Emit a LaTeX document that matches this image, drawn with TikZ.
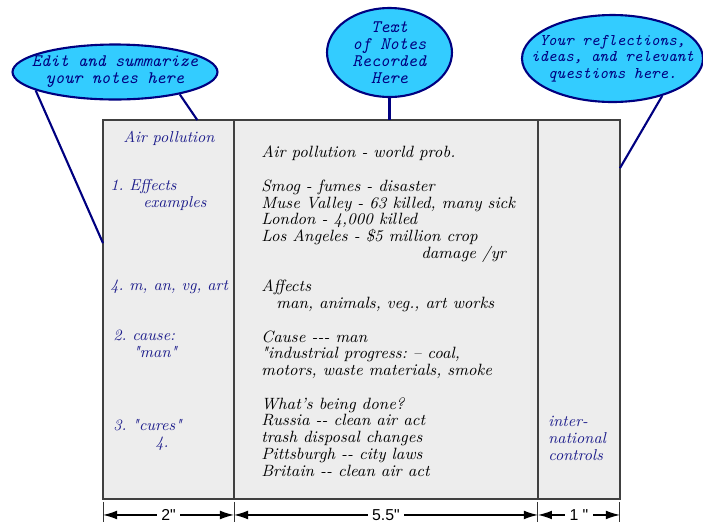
\documentclass[tikz,border=0pt]{standalone}
\usepackage{fontspec}
\usepackage{xcolor}
\usetikzlibrary{arrows.meta,positioning,calc,shapes.geometric}
\newfontfamily\dimfont{Liberation Sans}
\definecolor{bubblecyan}{RGB}{51,204,255}
\definecolor{inknavy}{RGB}{0,0,128}
\definecolor{cueblue}{RGB}{30,30,140}
\definecolor{pagegray}{RGB}{237,237,237}
\frenchspacing

\begin{document}
\begin{tikzpicture}[
    x=0.02cm, y=-0.02cm,
    col/.style={draw=black!75, fill=pagegray, line width=0.9pt,
                minimum height=7.58cm, inner sep=0pt, outer sep=0pt},
    bubble/.style={ellipse, draw=inknavy, fill=bubblecyan, line width=1.2pt, inner sep=0pt},
    bubtext/.style={font=\fontsize{10}{9.6}\selectfont\ttfamily\itshape, text=inknavy,
                    align=center, inner sep=0pt},
    cuetext/.style={font=\fontsize{9}{9.6}\selectfont\itshape, text=cueblue,
                    align=left, inner sep=0pt, anchor=base west},
    notetext/.style={font=\fontsize{9.3}{9.53}\selectfont\itshape, text=black,
                     align=left, inner sep=0pt, anchor=base west},
    lead/.style={draw=inknavy, line width=1.2pt},
    tick/.style={draw=black!80, line width=0.5pt},
    dimarr/.style={{Latex[length=8pt,width=5pt]}-{Latex[length=8pt,width=5pt]}, line width=0.7pt},
    dimlabel/.style={fill=white, inner sep=2.5pt, font=\dimfont\fontsize{9}{9}\selectfont}
]
  \useasboundingbox (0,0) rectangle (703,522);

  % the page
  \node[col, minimum width=2.62cm] (cue) at (168.5,309.5) {};
  \node[col, minimum width=6.08cm, right=0pt of cue] (notes) {};
  \node[col, minimum width=1.64cm, right=0pt of notes] (refl) {};

  % bubbles
  \node[bubble, minimum width=4.1cm, minimum height=1.1cm] (summ) at (115,72) {};
  \node[bubble, minimum width=2.5cm, minimum height=1.78cm] (rec) at (389.5,52.5) {};
  \node[bubble, minimum width=3.62cm, minimum height=1.74cm] (think) at (612.5,58.5) {};
  \node[bubtext] (summtxt) at (summ) {Edit and summarize\\your notes here};
  \node[bubtext] (rectxt) at (rec) {Text\\of Notes\\Recorded\\Here};
  \node[bubtext, font=\fontsize{9.3}{9.4}\selectfont\ttfamily\itshape] (thinktxt) at (think)
       {Your reflections,\\ideas, and relevant\\questions here.};

  \draw[lead] (summ.193) -- ($(cue.north west)!0.325!(cue.south west)$);
  \draw[lead] (summ.-19) -- ($(cue.north west)!0.72!(cue.north east)$);
  \draw[lead] (rec.south) -- (rec.south |- notes.north);
  \draw[lead] (think.-37) -- ($(refl.north east)!0.127!(refl.south east)$);

  % cue column (base = last line)
  \node[cuetext, anchor=base] (cue1) at (169,142) {Air pollution};
  \node[cuetext] (cue2) at (110,207) {1. Effects\\\hspace*{0.66cm}examples};
  \node[cuetext] (cue3) at (110,290) {4. m, an, vg, art};
  \node[cuetext] (cue4) at (113,357) {2. cause:\\\hspace*{0.4cm}\textquotedbl man\textquotedbl};
  \node[cuetext] (cue5) at (113,447) {3. \textquotedbl cures\textquotedbl\\\hspace*{0.84cm}4.};

  % notes column
  \node[notetext] (notestxt) at (261,476) {Air pollution - world prob.\\[9.53pt]
    Smog - fumes - disaster\\
    Muse Valley - 63 killed, many sick\\
    London - 4,000 killed\\
    Los Angeles - \$5 million crop\\
    \hspace*{3.2cm}damage /yr\\[9.53pt]
    Affects\\
    \hspace*{0.3cm}man, animals, veg., art works\\[9.53pt]
    Cause -{}-{}- man\\
    \textquotedbl industrial progress: -- coal,\\
    motors, waste materials, smoke\\[9.53pt]
    What's being done?\\
    Russia -{}- clean air act\\
    trash disposal changes\\
    Pittsburgh -{}- city laws\\
    Britain -{}- clean air act};

  % reflections column
  \node[cuetext] (refltxt) at (548,460) {inter-\\national\\controls};

  % widths
  \foreach \p in {cue.south west, cue.south east, notes.south east, refl.south east}
    \draw[tick] ($(\p)+(0,3)$) -- ($(\p)+(0,23)$);
  \foreach \a/\b/\w in {cue.south west/cue.south east/2",
                        cue.south east/notes.south east/5.5",
                        notes.south east/refl.south east/1 "}
    \draw[dimarr] ($(\a)+(0,16)$) -- node[dimlabel] {\w} ($(\b)+(0,16)$);
\end{tikzpicture}
\end{document}
